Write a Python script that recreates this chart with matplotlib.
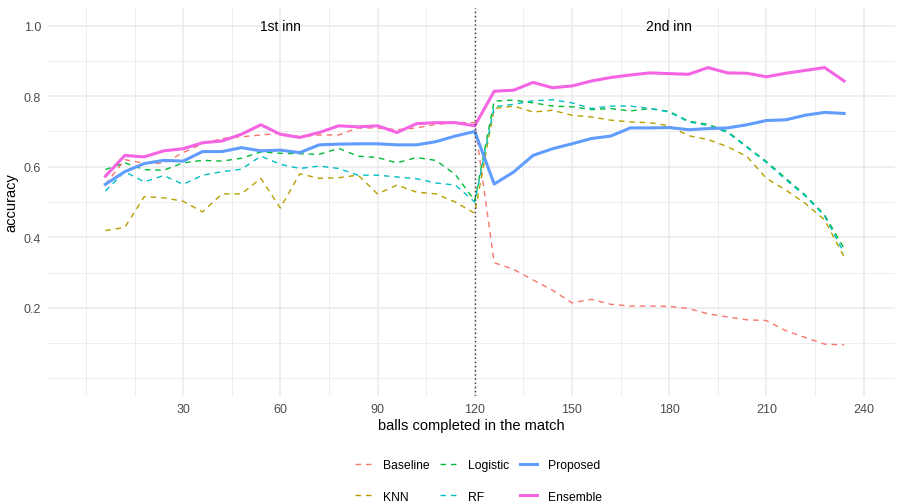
import matplotlib.pyplot as plt

plt.rcParams['font.family'] = ['Liberation Sans', 'DejaVu Sans']

# balls completed (end of each over)
balls = [6, 12, 18, 24, 30, 36, 42, 48, 54, 60, 66, 72, 78, 84, 90, 96, 102, 108, 114, 120,
         126, 132, 138, 144, 150, 156, 162, 168, 174, 180, 186, 192, 198, 204, 210, 216, 222, 228, 234]

baseline = [0.55, 0.62, 0.61, 0.61, 0.64, 0.665, 0.68, 0.685, 0.69, 0.695,
            0.685, 0.69, 0.69, 0.71, 0.71, 0.705, 0.71, 0.72, 0.725, 0.725,
            0.328, 0.309, 0.279, 0.25, 0.214, 0.224, 0.21, 0.205, 0.205, 0.204,
            0.198, 0.183, 0.174, 0.166, 0.164, 0.135, 0.116, 0.097, 0.095]
knn = [0.419, 0.428, 0.515, 0.512, 0.502, 0.472, 0.523, 0.523, 0.567, 0.483,
       0.58, 0.567, 0.569, 0.576, 0.523, 0.548, 0.528, 0.523, 0.50, 0.468,
       0.765, 0.772, 0.755, 0.76, 0.746, 0.741, 0.732, 0.727, 0.725, 0.716,
       0.688, 0.677, 0.657, 0.629, 0.567, 0.534, 0.496, 0.449, 0.344]
logistic = [0.592, 0.611, 0.592, 0.59, 0.611, 0.618, 0.616, 0.624, 0.642, 0.638,
            0.637, 0.635, 0.652, 0.63, 0.626, 0.611, 0.626, 0.618, 0.578, 0.504,
            0.786, 0.789, 0.781, 0.772, 0.77, 0.762, 0.765, 0.758, 0.765, 0.757,
            0.729, 0.72, 0.70, 0.657, 0.615, 0.567, 0.52, 0.463, 0.368]
rf = [0.531, 0.586, 0.557, 0.575, 0.55, 0.576, 0.586, 0.593, 0.63, 0.607,
      0.595, 0.602, 0.595, 0.576, 0.576, 0.571, 0.566, 0.554, 0.548, 0.50,
      0.77, 0.777, 0.787, 0.79, 0.781, 0.765, 0.772, 0.772, 0.765, 0.755,
      0.727, 0.717, 0.697, 0.655, 0.612, 0.563, 0.517, 0.46, 0.355]
proposed = [0.55, 0.586, 0.609, 0.618, 0.616, 0.643, 0.643, 0.654, 0.645, 0.647,
            0.64, 0.662, 0.664, 0.665, 0.665, 0.662, 0.662, 0.671, 0.687, 0.70,
            0.551, 0.585, 0.632, 0.651, 0.665, 0.68, 0.687, 0.71, 0.71, 0.711,
            0.705, 0.708, 0.71, 0.719, 0.731, 0.733, 0.746, 0.754, 0.751]
ensemble = [0.573, 0.632, 0.628, 0.645, 0.651, 0.668, 0.673, 0.692, 0.719, 0.692,
            0.683, 0.697, 0.716, 0.713, 0.716, 0.697, 0.722, 0.725, 0.725, 0.716,
            0.814, 0.817, 0.839, 0.824, 0.829, 0.843, 0.853, 0.86, 0.866, 0.864,
            0.862, 0.881, 0.866, 0.865, 0.855, 0.865, 0.873, 0.881, 0.843]

x_ticks = [30, 60, 90, 120, 150, 180, 210, 240]
y_ticks = [0.2, 0.4, 0.6, 0.8, 1.0]

fig = plt.figure(figsize=(9.01, 5.02), dpi=100)
ax = fig.add_axes([48 / 901, 1 - 397 / 502, 847 / 901, 388 / 502])

# ggplot-like minimal grid
for v in [15, 45, 75, 105, 135, 165, 195, 225, 0]:
    ax.axvline(v, color='#ebebeb', lw=0.6, zorder=0)
for v in x_ticks:
    ax.axvline(v, color='#ebebeb', lw=1.1, zorder=0)
for v in [0.0, 0.1, 0.3, 0.5, 0.7, 0.9]:
    ax.axhline(v, color='#ebebeb', lw=0.6, zorder=0)
for v in y_ticks:
    ax.axhline(v, color='#ebebeb', lw=1.1, zorder=0)

dash = (4, 3.5)
ax.plot(balls, baseline, color='#F8766D', lw=1.0, dashes=dash, label='Baseline')
ax.plot(balls, knn, color='#B79F00', lw=1.0, dashes=dash, label='KNN')
ax.plot(balls, logistic, color='#00BA38', lw=1.0, dashes=dash, label='Logistic')
ax.plot(balls, rf, color='#00BFC4', lw=1.0, dashes=dash, label='RF')
ax.plot(balls, proposed, color='#619CFF', lw=2.2, label='Proposed')
ax.plot(balls, ensemble, color='#F564E3', lw=2.2, label='Ensemble')

ax.axvline(120, color='#333333', lw=1.0, linestyle=(0, (1, 2)))
ax.text(60, 1.0, '1st inn', ha='center', va='center', fontsize=10)
ax.text(180, 1.0, '2nd inn', ha='center', va='center', fontsize=10)

ax.set_xlim(-11.7, 249.7)
ax.set_ylim(-0.05, 1.05)
ax.set_xticks(x_ticks)
ax.set_yticks(y_ticks)
ax.set_yticklabels(['0.2', '0.4', '0.6', '0.8', '1.0'])
ax.tick_params(length=0, labelsize=9, labelcolor='#4d4d4d', pad=5)
for s in ax.spines.values():
    s.set_visible(False)

ax.set_xlabel('balls completed in the match', fontsize=10.5, labelpad=2)
ax.set_ylabel('accuracy', fontsize=10.5, labelpad=4)

fig.legend(loc='center', bbox_to_anchor=(0.531, 0.040), ncol=3, frameon=False,
           fontsize=8.7, handlelength=1.4, labelspacing=1.6, columnspacing=0.9,
           handletextpad=0.9)

fig.savefig('out.png', dpi=100)
